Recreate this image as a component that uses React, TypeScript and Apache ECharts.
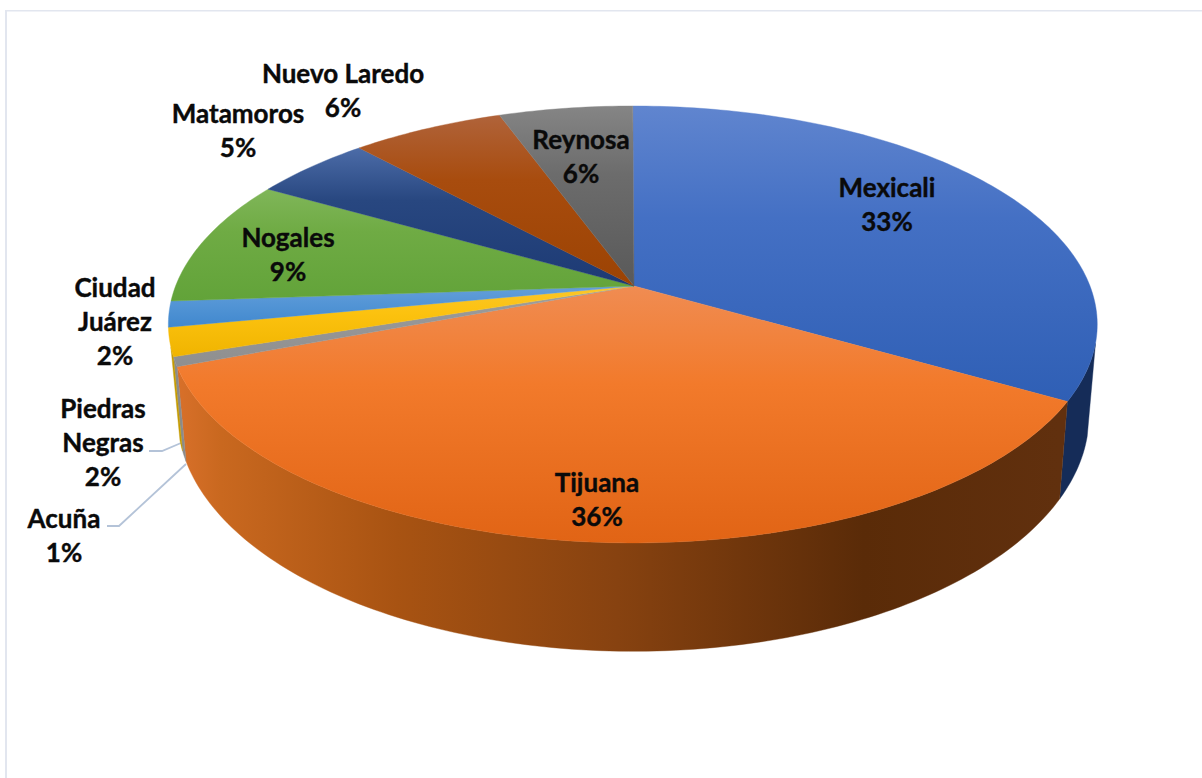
import React, { useEffect, useRef } from "react";
import * as echarts from "echarts";

const categories = ["Mexicali", "Tijuana", "Acuña", "Piedras Negras", "Ciudad Juárez", "Nogales", "Matamoros", "Nuevo Laredo", "Reynosa"];
const shares = [33.3, 35.9, 0.7, 2.1, 1.9, 9.4, 4.9, 6.3, 5.52];

const wrappedNames = ["Piedras Negras", "Ciudad Juárez"];
const labelCentres: number[][] = [[887, 204], [597, 499], [64, 535], [103, 442], [115, 321], [288, 254], [238, 130], [343, 90], [581, 156]];

const faceTop = ["#6085cf", "#f08c52", "#a0a0a0", "#fbc62b", "#659fd9", "#80b659", "#4c6ca8", "#b0633a", "#858585"];
const faceMid = ["#4470c4", "#f27a2b", "#979797", "#fcc20f", "#5596d6", "#6fab44", "#284780", "#a84c0e", "#6c6c6c"];
const faceBottom = ["#2f5fb5", "#e16415", "#8f8f8f", "#f0b400", "#4088ce", "#62a339", "#1d3a74", "#9c4303", "#595959"];
const wallStops: Array<Array<[number, string]>> = [
  [[0, "#152c58"], [1, "#152c58"]],
  [[0, "#d8702a"], [0.05, "#c9681f"], [0.25, "#a85312"], [0.5, "#874210"], [0.78, "#5a2b08"], [1, "#61300e"]],
  [[0, "#8b8b8b"], [1, "#8b8b8b"]],
  [[0, "#c49a00"], [1, "#c49a00"]],
  [[0, "#2f6ea8"], [1, "#2f6ea8"]],
  [[0, "#4b7b2b"], [1, "#4b7b2b"]],
  [[0, "#1d3a74"], [1, "#1d3a74"]],
  [[0, "#7a3502"], [1, "#7a3502"]],
  [[0, "#555555"], [1, "#555555"]],
];

const apex = [634, 286];
const K = 0.176;
const WALL_FROM = 105;
const WALL_TO = 254;
const top = { cx: 632.8, a: 457.2, b: 211.7, cy: 286 };
const bottom = { cx: 633.2, a: 448.6, b: 228, cy: 374.6 };
type Ring = typeof top;

function project(deg: number, p: Ring): number[] {
  const t = (deg * Math.PI) / 180;
  const X = Math.sin(t);
  const Z = Math.cos(t);
  const d = 1 + K * Z;
  return [p.cx + (p.a * X) / d, p.cy - (p.b * Z) / d];
}

function arc(from: number, to: number, p: Ring): number[][] {
  const n = Math.max(2, Math.ceil(Math.abs(to - from)));
  const out: number[][] = [];
  for (let i = 0; i <= n; i++) out.push(project(from + ((to - from) * i) / n, p));
  return out;
}

export default function App() {
  const ref = useRef<HTMLDivElement>(null);
  useEffect(() => {
    const chart = echarts.init(ref.current!, null, { renderer: "svg" });
    const total = shares.reduce((s, v) => s + v, 0);
    const starts: number[] = [];
    shares.reduce((acc, v) => {
      starts.push(acc);
      return acc + v;
    }, 0);

    const renderItem = (params: any, api: any) => {
      const i = params.dataIndex;
      const v = api.value(0);
      const a0 = (starts[i] / total) * 360;
      const a1 = a0 + (v / total) * 360;
      const children: any[] = [];
      const w0 = Math.max(a0, WALL_FROM);
      const w1 = Math.min(a1, WALL_TO);
      if (w1 > w0) {
        const pts = arc(w0, w1, top).concat(arc(w0, w1, bottom).reverse());
        const fill = new echarts.graphic.LinearGradient(
          177, 0, 1058, 0,
          wallStops[i].map(([offset, color]) => ({ offset, color })),
          true
        );
        children.push({
          type: "polygon",
          z2: 1,
          shape: { points: pts },
          style: { fill, stroke: fill, lineWidth: 0.4 },
        });
      }
      const face = new echarts.graphic.LinearGradient(0, 0, 0, 1, [
        { offset: 0, color: faceTop[i] },
        { offset: 0.38, color: faceMid[i] },
        { offset: 1, color: faceBottom[i] },
      ]);
      children.push({
        type: "polygon",
        z2: 2,
        shape: { points: [apex].concat(arc(a0, a1, top)) },
        style: { fill: face, stroke: face, lineWidth: 0.4 },
      });
      const name = categories[i];
      const shown = wrappedNames.includes(name) ? name.replace(" ", "\n") : name;
      children.push({
        type: "text",
        z2: 5,
        style: {
          text: `${shown}\n${Math.round((v / total) * 100)}%`,
          x: labelCentres[i][0],
          y: labelCentres[i][1],
          align: "center",
          verticalAlign: "middle",
          fill: "#0a0a0a",
          stroke: "#0a0a0a",
          lineWidth: 0.4,
          fontFamily: "Lato",
          fontWeight: "bold",
          fontSize: 26,
          lineHeight: 34,
        },
      });
      return { type: "group", children };
    };

    chart.setOption({
      animation: false,
      backgroundColor: "#ffffff",
      graphic: [
        { type: "rect", shape: { x: 5, y: 10, width: 2, height: 768 }, style: { fill: "#e2e6ef" }, silent: true },
        { type: "rect", shape: { x: 5, y: 10, width: 1197, height: 1.4 }, style: { fill: "#e2e6ef" }, silent: true },
        { type: "polyline", shape: { points: [[149, 451], [162, 451], [181, 443]] }, style: { stroke: "#b4c3d8", lineWidth: 1.8, fill: "none" }, silent: true },
        { type: "polyline", shape: { points: [[107, 526], [119, 526], [186, 464]] }, style: { stroke: "#b4c3d8", lineWidth: 1.8, fill: "none" }, silent: true },
      ],
      series: [
        {
          type: "custom",
          coordinateSystem: "none",
          silent: true,
          clip: false,
          renderItem,
          data: shares.map((v) => [v]),
        },
      ],
    });
    return () => chart.dispose();
  }, []);
  return <div ref={ref} style={{ position: "absolute", left: 0, top: 0, width: 1202, height: 778 }} />;
}
